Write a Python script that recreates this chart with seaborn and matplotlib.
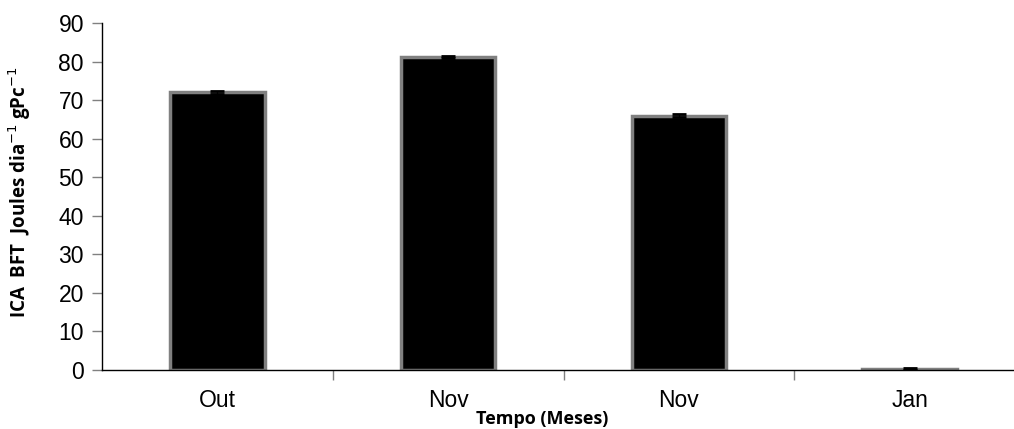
import matplotlib
matplotlib.use("Agg")
import matplotlib.pyplot as plt
import seaborn as sns
import pandas as pd
import numpy as np

categories = ["Out", "Nov", "Nov ", "Jan"]
tick_labels = ["Out", "Nov", "Nov", "Jan"]
values = [72.0, 81.2, 66.0, 0.3]
errors = [0.3, 0.3, 0.3, 0.3]

sns.set_theme(style="white")
plt.rcParams["font.family"] = ["Liberation Sans", "DejaVu Sans"]
plt.rcParams["text.color"] = "black"
plt.rcParams["xtick.color"] = "black"
plt.rcParams["ytick.color"] = "black"

df = pd.DataFrame({"mes": categories, "valor": values})

fig = plt.figure(figsize=(10.14, 4.29), dpi=100)
ax = fig.add_axes([102/1014, 1 - 370/429, 923/1014, (370 - 23)/429])

sns.barplot(data=df, x="mes", y="valor", order=categories, color="black",
            width=0.41, edgecolor="#808080", linewidth=2.5, errorbar=None,
            saturation=1, ax=ax)
ax.errorbar(np.arange(len(values)), values, yerr=errors, fmt="none",
            ecolor="black", elinewidth=1, capsize=5, capthick=2)

ax.set_xlim(-0.5, len(categories) - 0.5)
ax.set_ylim(0, 90)
ax.set_yticks(np.arange(0, 91, 10))
ax.set_xticks(np.arange(len(categories)))
ax.set_xticklabels(tick_labels)
ax.set_xticks(np.arange(0.5, len(categories) - 0.5, 1), minor=True)
ax.tick_params(axis="x", which="major", length=0, pad=14, labelsize=16.5, labelcolor="black")
ax.tick_params(axis="x", which="minor", length=7, width=1, color="#808080", direction="out", bottom=True)
ax.tick_params(axis="y", length=7, width=1, color="#808080", direction="out", left=True,
               labelsize=16.5, pad=6, labelcolor="black")

for s in ["top", "right"]:
    ax.spines[s].set_visible(False)
for s in ["left", "bottom"]:
    ax.spines[s].set_color("black")
    ax.spines[s].set_linewidth(1)

ax.set_xlabel("")
ax.set_ylabel("")
fig.text(20/1014, 1 - 192/429, "ICA  BFT  Joules dia$^{-1}$ gPc$^{-1}$", rotation=90,
         ha="center", va="center", fontsize=13.5, fontweight="bold", family=["Open Sans", "DejaVu Sans"])
fig.text(542/1014, 1 - 419/429, "Tempo (Meses)", ha="center", va="center",
         fontsize=13, fontweight="bold", family=["Open Sans", "DejaVu Sans"])

fig.savefig("out.png", dpi=100)
